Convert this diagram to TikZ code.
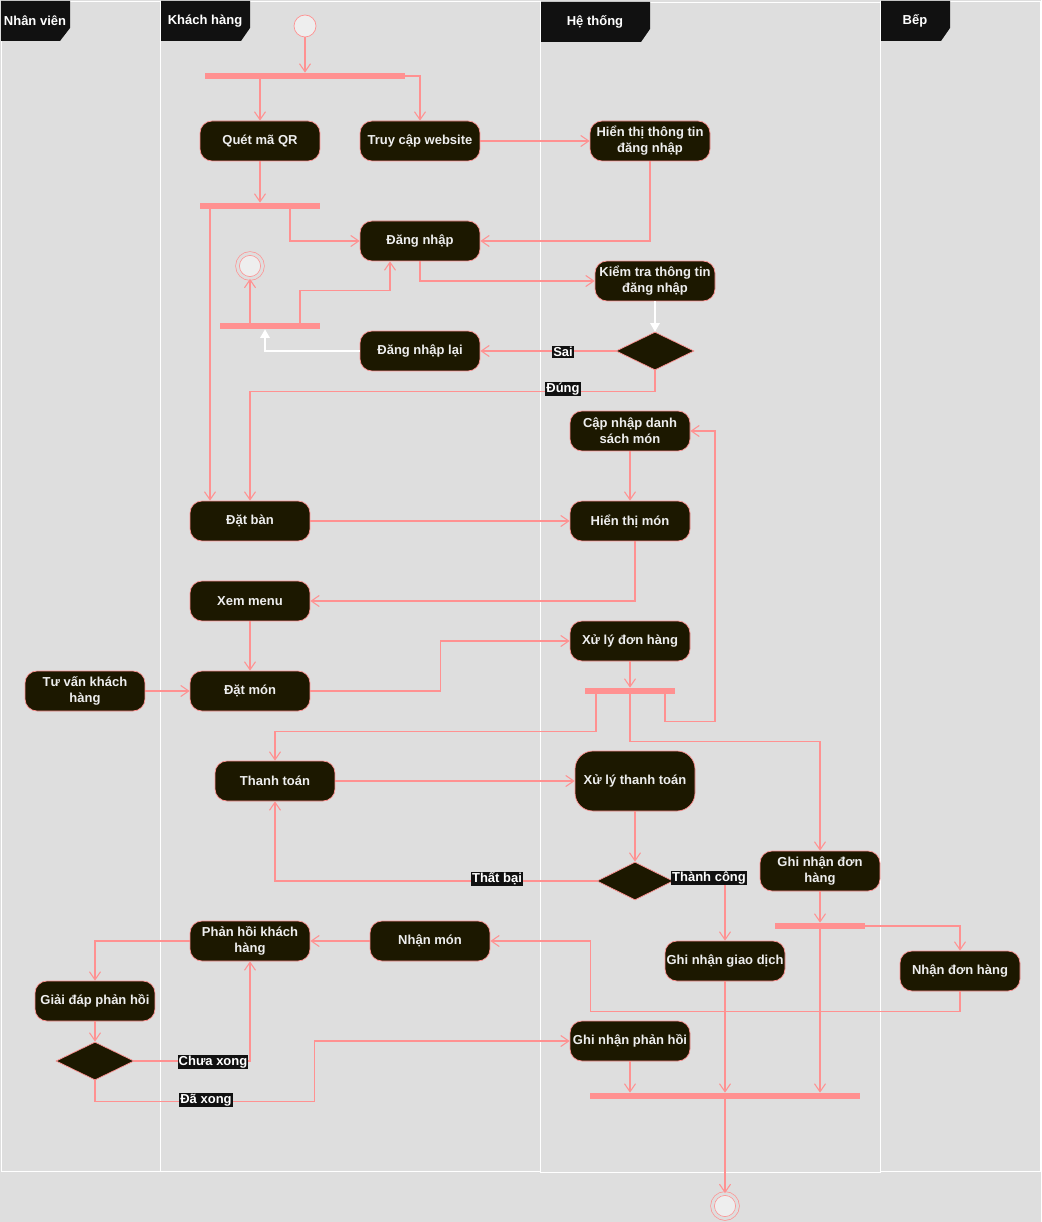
\documentclass[tikz,border=0pt]{standalone}
\usepackage{fontspec}
\setmainfont{Liberation Sans}
\usepackage{tikz}
\usetikzlibrary{arrows.meta,shapes.geometric,calc}
\definecolor{lanebg}{HTML}{DEDEDE}
\definecolor{actfill}{HTML}{1C1800}
\definecolor{pinkln}{HTML}{FF9191}
\definecolor{txtlight}{HTML}{EEEEEE}
\definecolor{hdrbg}{HTML}{111111}
\begin{document}
\begin{tikzpicture}[x=0.02cm,y=-0.02cm,
    font=\fontsize{7.4}{9}\selectfont\bfseries,
    act/.style={rectangle,rounded corners=0.24cm,draw=pinkln,fill=actfill,text=txtlight,
        minimum width=2.4cm,minimum height=0.8cm,inner xsep=0.5pt,inner ysep=1pt,align=center},
    bar/.style={rectangle,fill=pinkln,minimum height=0.12cm,inner sep=0pt},
    dec/.style={diamond,aspect=2,draw=pinkln,fill=actfill,minimum width=1.56cm,minimum height=0.76cm,inner sep=0pt},
    startst/.style={circle,draw=pinkln,fill=txtlight,minimum size=0.44cm,inner sep=0pt},
    endst/.style={circle,draw=pinkln,fill=txtlight,double=lanebg,double distance=0.06cm,minimum size=0.5cm,inner sep=0pt},
    lbl/.style={fill=hdrbg,text=white,inner sep=0.6pt},
    hdr/.style={text=white,inner sep=0pt},
    flow/.style={draw=pinkln,line width=0.6pt,-{Straight Barb[length=1.6mm,width=2.2mm]}},
    wflow/.style={draw=white,line width=0.8pt,-{Triangle[length=1.7mm,width=1.9mm]}}]
\fill[lanebg] (0,0) rectangle (1041,1222);
\useasboundingbox (0,0) rectangle (1041,1222);
\draw[white] (1,1) rectangle (160,1171);
\draw[white] (160,1) rectangle (540,1171);
\draw[white] (880,1) rectangle (1040,1171);
\draw[white] (540,2) rectangle (880,1172);
\fill[hdrbg] (1,1) -- (70,1) -- (70,28) -- (60,41) -- (1,41) -- cycle;
\fill[hdrbg] (161,1) -- (250,1) -- (250,28) -- (241,41) -- (161,41) -- cycle;
\fill[hdrbg] (541,2) -- (650,2) -- (650,29) -- (641,42) -- (541,42) -- cycle;
\fill[hdrbg] (881,1) -- (950,1) -- (950,28) -- (941,41) -- (881,41) -- cycle;
\node[hdr] (hnv) at (35,21) {Nhân viên};
\node[hdr] (hkh) at (205,21) {Khách hàng};
\node[hdr] (hht) at (595,22) {Hệ thống};
\node[hdr] (hbep) at (915,21) {Bếp};

\node[startst] (start) at (305,26) {};
\node[bar,minimum width=4cm] (fork1) at (305,76) {};
\node[act] (qr) at (260,141) {Quét mã QR};
\node[act] (web) at (420,141) {Truy cập website};
\node[act] (htdn) at (650,141) {Hiển thị thông tin\\đăng nhập};
\node[bar,minimum width=2.4cm] (bar2) at (260,206) {};
\node[act] (dnhap) at (420,241) {Đăng nhập};
\node[act] (ktra) at (655,281) {Kiểm tra thông tin\\đăng nhập};
\node[endst] (endA) at (250,266) {};
\node[bar,minimum width=2cm] (bar3) at (270,326) {};
\node[act] (dnlai) at (420,351) {Đăng nhập lại};
\node[dec] (dec1) at (655,351) {};
\node[act] (capnhap) at (630,431) {Cập nhập danh\\sách món};
\node[act] (datban) at (250,521) {Đặt bàn};
\node[act] (htmon) at (630,521) {Hiển thị món};
\node[act] (xem) at (250,601) {Xem menu};
\node[act] (xlydon) at (630,641) {Xử lý đơn hàng};
\node[act] (tuvan) at (85,691) {Tư vấn khách\\hàng};
\node[act] (datmon) at (250,691) {Đặt món};
\node[bar,minimum width=1.8cm] (bar4) at (630,691) {};
\node[act] (ttoan) at (275,781) {Thanh toán};
\node[act,minimum height=1.2cm,rounded corners=0.36cm] (xltt) at (635,781) {Xử lý thanh toán};
\node[dec,minimum width=1.52cm] (dec2) at (635,881) {};
\node[act] (gndon) at (820,871) {Ghi nhận đơn\\hàng};
\node[bar,minimum width=1.8cm] (bar5) at (820,926) {};
\node[act] (phkh) at (250,941) {Phản hồi khách\\hàng};
\node[act] (nmon) at (430,941) {Nhận món};
\node[act] (gngd) at (725,961) {Ghi nhận giao dịch};
\node[act] (ndh) at (960,971) {Nhận đơn hàng};
\node[act] (gdap) at (95,1001) {Giải đáp phản hồi};
\node[act] (gnph) at (630,1041) {Ghi nhận phản hồi};
\node[dec] (dec3) at (95,1061) {};
\node[bar,minimum width=5.4cm] (bar6) at (725,1096) {};
\node[endst] (endB) at (725,1206) {};

\draw[flow] (start) -- (fork1);
\draw[flow] (fork1.south -| qr) -- (qr);
\draw[flow] (fork1.east) -| (web);
\draw[flow] (web) -- (htdn);
\draw[flow] (qr) -- (bar2);
\draw[flow] ($(bar2.south)+(30,0)$) |- (dnhap);
\draw[flow] ($(bar2.south)+(-50,0)$) -- ($(datban.north)+(-40,0)$);
\draw[flow] (htdn) |- (dnhap);
\draw[flow] (dnhap) |- (ktra);
\draw[wflow] (ktra) -- (dec1);
\draw[flow] (dec1) -- (dnlai);
\draw[wflow] (dnlai.west) -| ($(bar3.south)+(-5,0)$);
\draw[flow] ($(bar3.north)+(30,0)$) -- ++(0,-32) -| ($(dnhap.south)+(-30,0)$);
\draw[flow] ($(bar3.north)+(-20,0)$) -- (endA);
\draw[flow] (dec1.south) -- ++(0,21) -| (datban);
\draw[flow] (datban) -- (htmon);
\draw[flow] (capnhap) -- (htmon);
\draw[flow] ($(htmon.south)+(5,0)$) |- (xem);
\draw[flow] (xem) -- (datmon);
\draw[flow] (tuvan) -- (datmon);
\draw[flow] (datmon.east) -- ++(130,0) |- (xlydon);
\draw[flow] (xlydon) -- (bar4);
\draw[flow] ($(bar4.south)+(-34,0)$) -- ++(0,37) -| (ttoan);
\draw[flow] ($(bar4.south)+(35,0)$) -- ++(0,27) -- ++(50,0) |- (capnhap);
\draw[flow] (bar4.south) -- ++(0,47) -| (gndon);
\draw[flow] (ttoan) -- (xltt);
\draw[flow] (xltt) -- (dec2);
\draw[flow] (dec2.west) -| (ttoan);
\draw[flow] (dec2.east) -| (gngd);
\draw[flow] (gndon) -- (bar5);
\draw[flow] (bar5.east) -| (ndh);
\draw[flow] (bar5.south) -- (bar5.south |- bar6.north);
\draw[flow] (ndh.south) -- ++(0,20) -| ($(nmon.east)+(100,0)$) -- (nmon.east);
\draw[flow] (nmon) -- (phkh);
\draw[flow] (phkh) -| (gdap);
\draw[flow] (gdap) -- (dec3);
\draw[flow] (dec3.east) -| (phkh);
\draw[flow] (dec3.south) -- ++(0,21) -| ($(gnph.west)+(-255,0)$) -- (gnph.west);
\draw[flow] (gngd) -- (gngd |- bar6.north);
\draw[flow] (gnph) -- (gnph |- bar6.north);
\draw[flow] (bar6) -- (endB);

\node[lbl] (lsai) at (563,352) {Sai};
\node[lbl] (ldung) at (563,389) {Đúng};
\node[lbl] (lthatbai) at (497,879) {Thất bại};
\node[lbl] (lthanhcong) at (709,878) {Thành công};
\node[lbl] (lchuaxong) at (213,1062) {Chưa xong};
\node[lbl] (ldaxong) at (206,1100) {Đã xong};
\end{tikzpicture}
\end{document}
